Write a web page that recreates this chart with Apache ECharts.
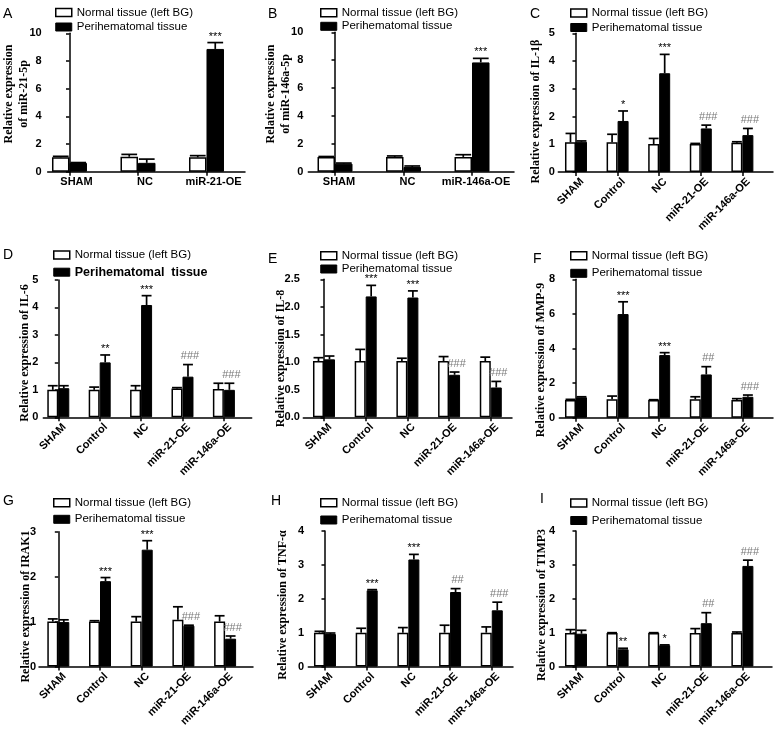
<!DOCTYPE html>
<html>
<head>
<meta charset="utf-8">
<script src="https://cdn.jsdelivr.net/npm/echarts@6/dist/echarts.min.js"></script>
<style>
html,body{margin:0;padding:0;background:#fff;}
#chart{width:774px;height:729px;}
</style>
</head>
<body>
<div id="chart"></div>
<script>
// ---------------- data ----------------
const seriesNames = ['Normal tissue (left BG)', 'Perihematomal tissue'];
const catsA = ['SHAM', 'NC', 'miR-21-OE'];
const catsB = ['SHAM', 'NC', 'miR-146a-OE'];
const catsFive = ['SHAM', 'Control', 'NC', 'miR-21-OE', 'miR-146a-OE'];

// A: miR-21-5p
const normalA = [1.04, 1.08, 1.04];
const normalErrA = [0.07, 0.17, 0.12];
const periA = [0.63, 0.64, 8.87];
const periErrA = [0.03, 0.27, 0.46];
const sigA = ['', '', '***'];
// B: miR-146a-5p
const normalB = [1.05, 1.06, 1.06];
const normalErrB = [0.04, 0.07, 0.16];
const periB = [0.58, 0.34, 7.84];
const periErrB = [0.04, 0.07, 0.29];
const sigB = ['', '', '***'];
// C: IL-1β
const normalC = [1.07, 1.07, 1.01, 1.01, 1.05];
const normalErrC = [0.32, 0.29, 0.20, 0.02, 0.04];
const periC = [1.09, 1.84, 3.56, 1.57, 1.33];
const periErrC = [0.03, 0.36, 0.68, 0.12, 0.24];
const sigC = ['', '*', '***', '###', '###'];
// D: IL-6
const normalD = [1.0, 1.0, 1.0, 1.05, 1.03];
const normalErrD = [0.15, 0.10, 0.15, 0.03, 0.21];
const periD = [1.06, 2.0, 4.09, 1.48, 1.0];
const periErrD = [0.09, 0.27, 0.34, 0.44, 0.24];
const sigD = ['', '**', '***', '###', '###'];
// E: IL-8
const normalE = [1.02, 1.02, 1.02, 1.02, 1.02];
const normalErrE = [0.06, 0.21, 0.05, 0.08, 0.07];
const periE = [1.05, 2.19, 2.17, 0.77, 0.54];
const periErrE = [0.06, 0.20, 0.12, 0.05, 0.11];
const sigE = ['', '***', '***', '###', '###'];
// F: MMP-9
const normalF = [1.02, 1.06, 1.02, 1.06, 1.02];
const normalErrF = [0.04, 0.19, 0.02, 0.15, 0.08];
const periF = [1.18, 5.99, 3.62, 2.5, 1.21];
const periErrF = [0.03, 0.71, 0.14, 0.45, 0.10];
const sigF = ['', '***', '***', '##', '###'];
// G: IRAK1
const normalG = [1.0, 1.0, 1.0, 1.04, 1.0];
const normalErrG = [0.06, 0.02, 0.11, 0.29, 0.13];
const periG = [0.99, 1.90, 2.60, 0.91, 0.62];
const periErrG = [0.05, 0.08, 0.20, 0.01, 0.06];
const sigG = ['', '***', '***', '###', '###'];
// H: TNF-α
const normalH = [1.0, 1.0, 1.0, 1.0, 1.0];
const normalErrH = [0.04, 0.13, 0.15, 0.22, 0.17];
const periH = [0.96, 2.25, 3.16, 2.20, 1.66];
const periErrH = [0.03, 0.02, 0.15, 0.10, 0.24];
const sigH = ['', '***', '***', '##', '###'];
// I: TIMP3
const normalI = [0.99, 0.99, 0.99, 0.99, 0.99];
const normalErrI = [0.10, 0.01, 0.01, 0.13, 0.03];
const periI = [0.97, 0.51, 0.63, 1.28, 2.97];
const periErrI = [0.10, 0.03, 0.01, 0.31, 0.17];
const sigI = ['', '**', '*', '##', '###'];

// y axis: [max, step]
const yMaxList = [10, 10, 5, 5, 2.5, 8, 3, 4, 4];
const yStepList = [2, 2, 1, 1, 0.5, 2, 1, 1, 1];
const panelLetters = ['A', 'B', 'C', 'D', 'E', 'F', 'G', 'H', 'I'];
const yTitles = [
  'Relative expression\nof miR-21-5p',
  'Relative expression\nof miR-146a-5p',
  'Relative expression of IL-1β',
  'Relative expression of IL-6',
  'Relative expression of IL-8',
  'Relative expression of MMP-9',
  'Relative expression of IRAK1',
  'Relative expression of TNF-α',
  'Relative expression of TIMP3'
];

const panels = [
  {cats: catsA, n: normalA, ne: normalErrA, p: periA, pe: periErrA, sig: sigA},
  {cats: catsB, n: normalB, ne: normalErrB, p: periB, pe: periErrB, sig: sigB},
  {cats: catsFive, n: normalC, ne: normalErrC, p: periC, pe: periErrC, sig: sigC},
  {cats: catsFive, n: normalD, ne: normalErrD, p: periD, pe: periErrD, sig: sigD},
  {cats: catsFive, n: normalE, ne: normalErrE, p: periE, pe: periErrE, sig: sigE},
  {cats: catsFive, n: normalF, ne: normalErrF, p: periF, pe: periErrF, sig: sigF},
  {cats: catsFive, n: normalG, ne: normalErrG, p: periG, pe: periErrG, sig: sigG},
  {cats: catsFive, n: normalH, ne: normalErrH, p: periH, pe: periErrH, sig: sigH},
  {cats: catsFive, n: normalI, ne: normalErrI, p: periI, pe: periErrI, sig: sigI}
];

// ---------------- layout (px) ----------------
const layouts = [
  {left: 47.7, top: 33.3, width: 197.3, height: 138.4, xMin: -0.318, xMax: 2.562, barW: 17.5, shiftPx: 7, rotate: 0, margin: 5, yMargin: 6,
   legL: 55, legT: 6.5, legGap: 2.5, letX: 3, letY: 7, tX: 16.5, tY: 94},
  {left: 308.3, top: 32.3, width: 205.7, height: 139.4, xMin: -0.390, xMax: 2.613, barW: 17.5, shiftPx: 4, rotate: 0, margin: 5, yMargin: 5,
   legL: 320, legT: 6.7, legGap: 1.6, letX: 268, letY: 7, tX: 278, tY: 94},
  {left: 558.3, top: 33.3, width: 214.7, height: 138.7, xMin: -0.425, xMax: 4.736, barW: 11, shiftPx: 6, rotate: 45, margin: 8, yMargin: 3.5,
   legL: 570, legT: 7, legGap: 2.5, letX: 530, letY: 7, tX: 536, tY: 111.5},
  {left: 43.3, top: 280, width: 208.4, height: 137.3, xMin: -0.362, xMax: 4.672, barW: 11, shiftPx: 6, rotate: 45, margin: 8, yMargin: 5,
   legL: 53, legT: 249, legGap: 4.7, letX: 3, letY: 248, tX: 25, tY: 353},
  {left: 303.3, top: 279.3, width: 208.7, height: 138, xMin: -0.496, xMax: 4.509, barW: 11, shiftPx: 6, rotate: 45, margin: 8, yMargin: 3.5,
   legL: 320, legT: 249.7, legGap: 1.3, letX: 268, letY: 252, tX: 281, tY: 358.5},
  {left: 559.3, top: 279.3, width: 213.7, height: 138.4, xMin: -0.401, xMax: 4.736, barW: 11, shiftPx: 6, rotate: 45, margin: 8, yMargin: 4.3,
   legL: 570, legT: 249.8, legGap: 5.5, letX: 533, letY: 252, tX: 541, tY: 360},
  {left: 39, top: 531.7, width: 214, height: 137.6, xMin: -0.463, xMax: 4.669, barW: 11, shiftPx: 6, rotate: 45, margin: 8, yMargin: 3,
   legL: 53, legT: 496.7, legGap: 4.6, letX: 3, letY: 494, tX: 26, tY: 606.5},
  {left: 308.3, top: 531, width: 204.7, height: 139, xMin: -0.400, xMax: 4.509, barW: 11, shiftPx: 6, rotate: 45, margin: 8, yMargin: 4.3,
   legL: 320, legT: 496.7, legGap: 5.3, letX: 271, letY: 494, tX: 283.3, tY: 605},
  {left: 559.3, top: 531, width: 212.7, height: 138.3, xMin: -0.401, xMax: 4.712, barW: 11, shiftPx: 6, rotate: 45, margin: 8, yMargin: 4.3,
   legL: 570, legT: 497, legGap: 5.5, letX: 540, letY: 492, tX: 542, tY: 605}
];

const SANS = 'Arial, "Liberation Sans", sans-serif';
const SERIF = '"Times New Roman", "Liberation Serif", serif';

const grid = [], xAxis = [], yAxis = [], series = [], legend = [], graphic = [];

panels.forEach((pn, k) => {
  const L = layouts[k];
  const spacing = L.width / (L.xMax - L.xMin);
  const shift = L.shiftPx / spacing;
  grid.push({left: L.left, top: L.top, width: L.width, height: L.height});
  xAxis.push({
    type: 'value', gridIndex: k, min: L.xMin, max: L.xMax,
    axisLine: {show: true, lineStyle: {color: '#000', width: 1.5}},
    axisTick: {show: true, length: 4, lineStyle: {color: '#000', width: 1.5}, customValues: pn.cats.map((c, i) => i)},
    axisLabel: {
      customValues: pn.cats.map((c, i) => i + shift),
      formatter: v => pn.cats[Math.round(v - shift)] || '',
      rotate: L.rotate, margin: L.margin, color: '#000',
      fontFamily: SANS, fontWeight: 'bold', fontSize: 11
    },
    splitLine: {show: false}
  });
  const yMax = yMaxList[k], yStep = yStepList[k];
  yAxis.push({
    type: 'value', gridIndex: k, min: 0, max: yMax, interval: yStep,
    axisLine: {show: true, lineStyle: {color: '#000', width: 1.5}},
    axisTick: {show: true, length: 3.5, lineStyle: {color: '#000', width: 1.5}},
    axisLabel: {
      margin: L.yMargin, color: '#000', fontFamily: SANS, fontWeight: 'bold', fontSize: 11,
      formatter: v => (yStep < 1 ? v.toFixed(1) : String(v))
    },
    splitLine: {show: false}
  });
  series.push({
    name: seriesNames[0], type: 'bar', xAxisIndex: k, yAxisIndex: k,
    data: pn.cats.map((c, i) => [i, pn.n[i]]),
    barWidth: L.barW, barGap: '0%',
    itemStyle: {color: '#fff', borderColor: '#000', borderWidth: 1.5},
    emphasis: {disabled: true}, z: 2
  });
  series.push({
    name: seriesNames[1], type: 'bar', xAxisIndex: k, yAxisIndex: k,
    data: pn.cats.map((c, i) => [i, pn.p[i]]),
    barWidth: L.barW, barGap: '0%',
    itemStyle: {color: '#000', borderColor: '#000', borderWidth: 1},
    emphasis: {disabled: true}, z: 2
  });
  const errData = [];
  pn.cats.forEach((c, i) => {
    errData.push([i, pn.n[i], pn.ne[i], -1]);
    errData.push([i, pn.p[i], pn.pe[i], 1]);
  });
  series.push({
    type: 'custom', xAxisIndex: k, yAxisIndex: k, z: 3, silent: true,
    encode: {x: 0, y: 1},
    data: errData,
    renderItem: (params, api) => {
      const i = api.value(0), m = api.value(1), e = api.value(2), side = api.value(3);
      const base = api.coord([i, m]);
      const top = api.coord([i, m + e]);
      const x = base[0] + side * L.barW / 2;
      const cw = L.barW * 0.45;
      const children = [
        {type: 'line', shape: {x1: x, y1: base[1], x2: x, y2: top[1]}, style: {stroke: '#000', lineWidth: 1.7}},
        {type: 'line', shape: {x1: x - cw, y1: top[1], x2: x + cw, y2: top[1]}, style: {stroke: '#000', lineWidth: 1.7}}
      ];
      const lab = side > 0 ? pn.sig[Math.round(i)] : '';
      if (lab) {
        const star = lab.indexOf('*') >= 0;
        children.push({
          type: 'text',
          style: {
            text: lab, x: x + (star ? 0 : 2), y: top[1] - (star ? 6 : 8.5),
            align: 'center', verticalAlign: 'middle',
            font: '11px ' + SANS, fill: star ? '#000' : '#7a7a7a'
          }
        });
      }
      return {type: 'group', children: children};
    }
  });
  const legData = [
    {name: seriesNames[0], icon: 'rect', itemStyle: {color: '#fff', borderColor: '#000', borderWidth: 1.5}},
    {name: seriesNames[1], icon: 'rect', itemStyle: {color: '#000', borderColor: '#000', borderWidth: 1}}
  ];
  const leg = {
    left: L.legL, top: L.legT, orient: 'vertical', padding: 0,
    itemWidth: 16, itemHeight: 8, itemGap: L.legGap, selectedMode: false,
    textStyle: {fontFamily: SANS, fontSize: 11.5, color: '#000', lineHeight: 12},
    data: legData
  };
  if (k === 3) {
    legData[1].textStyle = {fontWeight: 'bold', fontSize: 12.5, color: '#000'};
    leg.formatter = name => (name === seriesNames[1] ? 'Perihematomal  tissue' : name);
  }
  legend.push(leg);
  graphic.push({
    type: 'text', left: L.letX, top: L.letY, silent: true,
    style: {text: panelLetters[k], font: '14px ' + SANS, fill: '#000'}
  });
  graphic.push({
    type: 'text', x: L.tX, y: L.tY, rotation: Math.PI / 2, silent: true,
    style: {
      text: yTitles[k], align: 'center', verticalAlign: 'middle',
      font: 'bold 12px ' + SERIF, fill: '#000', lineHeight: 15
    }
  });
});

const chart = echarts.init(document.getElementById('chart'), null, {renderer: 'canvas'});
chart.setOption({
  backgroundColor: '#fff',
  animation: false,
  grid, xAxis, yAxis, series, legend, graphic
});
</script>
</body>
</html>
